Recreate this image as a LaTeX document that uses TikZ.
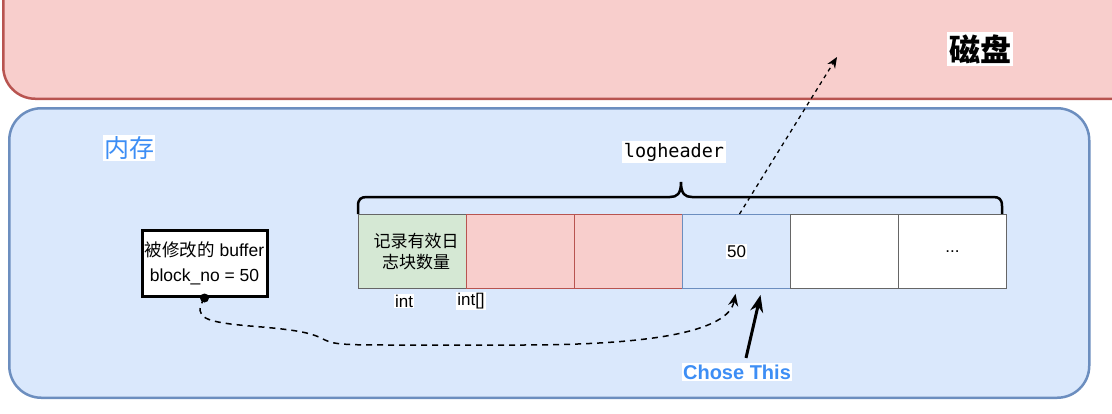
\documentclass[tikz,border=0pt]{standalone}
\usepackage{fontspec}
\setmainfont{Liberation Sans}
\setmonofont{DejaVu Sans Mono}
\newfontfamily\cjk{Noto Sans CJK SC}
\usetikzlibrary{arrows.meta}
\definecolor{diskfill}{HTML}{F8CECC}
\definecolor{diskline}{HTML}{B85450}
\definecolor{memfill}{HTML}{DAE8FC}
\definecolor{memline}{HTML}{6C8EBF}
\definecolor{greenfill}{HTML}{D5E8D4}
\definecolor{labelblue}{HTML}{3D8EF5}
\definecolor{cellgray}{HTML}{666666}
\begin{document}
\begin{tikzpicture}[x=1pt,y=-1pt,
  font=\fontsize{17}{20}\selectfont,
  cell/.style={draw, line width=1pt, minimum width=108pt, minimum height=74pt, inner sep=0pt, anchor=north west},
  whitelabel/.style={fill=white, inner sep=1pt},
  bigbox/.style={line width=2.5pt, rounded corners=32pt, anchor=north west, inner sep=0pt}]
\useasboundingbox (0,0) rectangle (1112,413);
\begin{scope}
  \clip (0,0) rectangle (1112,413);
  \node[bigbox, draw=diskline, fill=diskfill, minimum width=1160pt, minimum height=137.5pt] (disk) at (2,-40) {};
\end{scope}
\node[bigbox, draw=memline, fill=memfill, minimum width=1080pt, minimum height=289.5pt] (mem) at (8,107) {};

\node[fill=white, inner sep=2pt, font=\cjk\bfseries\fontsize{31}{34}\selectfont] (disklabel) at (980,49) {磁盘};
\node[fill=white, inner sep=1pt, text=labelblue, font=\cjk\fontsize{25}{28}\selectfont] (memlabel) at (129,148) {内存};
\node[fill=white, inner sep=2pt, font=\ttfamily\fontsize{18.5}{20}\selectfont] (lh) at (674,152) {logheader};

% brace
\draw[line width=2.5pt]
  (358,214) -- (358,206) .. controls (358,199) and (361,197) .. (367,197) -- (670,197)
  .. controls (677,197) and (681,194) .. (681,182)
  .. controls (681,194) and (685,197) .. (692,197) -- (993,197)
  .. controls (999,197) and (1002,199) .. (1002,206) -- (1002,214);

% cells
\node[cell, draw=cellgray, fill=greenfill, align=center, font=\cjk\fontsize{17}{21}\selectfont] (c1) at (358,214) {\hspace*{7pt}记录有效日\\\hspace*{7pt}志块数量};
\node[cell, draw=diskline, fill=diskfill] (c2) at (466,214) {};
\node[cell, draw=diskline, fill=diskfill] (c3) at (574,214) {};
\node[cell, draw=memline, fill=memfill] (c4) at (682,214) {};
\node[cell, draw=cellgray, fill=white] (c5) at (790,214) {};
\node[cell, draw=cellgray, fill=white] (c6) at (898,214) {...};
\node[whitelabel] (v50) at (c4.center) {50};

\node[whitelabel] (int1) at (404,301) {int};
\node[whitelabel] (int2) at (471,301) {int[]};

% buffer
\node[draw, line width=3pt, fill=white, minimum width=125pt, minimum height=66pt, inner sep=0pt, align=center, font=\fontsize{17.5}{25}\selectfont] (buf) at (204.5,263.5) {{\cjk 被修改的} buffer\\block\_no = 50};

\node[fill=white, inner sep=1.5pt, text=labelblue, font=\bfseries\fontsize{20}{22}\selectfont] (chose) at (737,372) {Chose This};

% connectors
\coordinate (diskpt) at (837,57);
\draw[line width=1.3pt, dash pattern=on 4pt off 4pt, -{Stealth[length=11pt,width=9pt]}] ([xshift=3pt]c4.north) -- (diskpt);

\fill (buf.south) circle (4.5pt);
\draw[line width=1.5pt, dash pattern=on 6pt off 5pt, shorten >=5pt, -{Stealth[length=12pt,width=10pt]}]
  (buf.south) .. controls (192,318) and (205,322) .. (250,326)
  .. controls (300,330) and (312,333) .. (325,340)
  .. controls (335,345) and (350,345) .. (400,345) -- (520,345)
  .. controls (650,345) and (728,332) .. (c4.south);

\draw[line width=3pt, -{Stealth[length=17pt,width=13pt]}] ([shift={(9,-5)}]chose.north) -- ([shift={(24,6)}]c4.south);
\end{tikzpicture}
\end{document}
